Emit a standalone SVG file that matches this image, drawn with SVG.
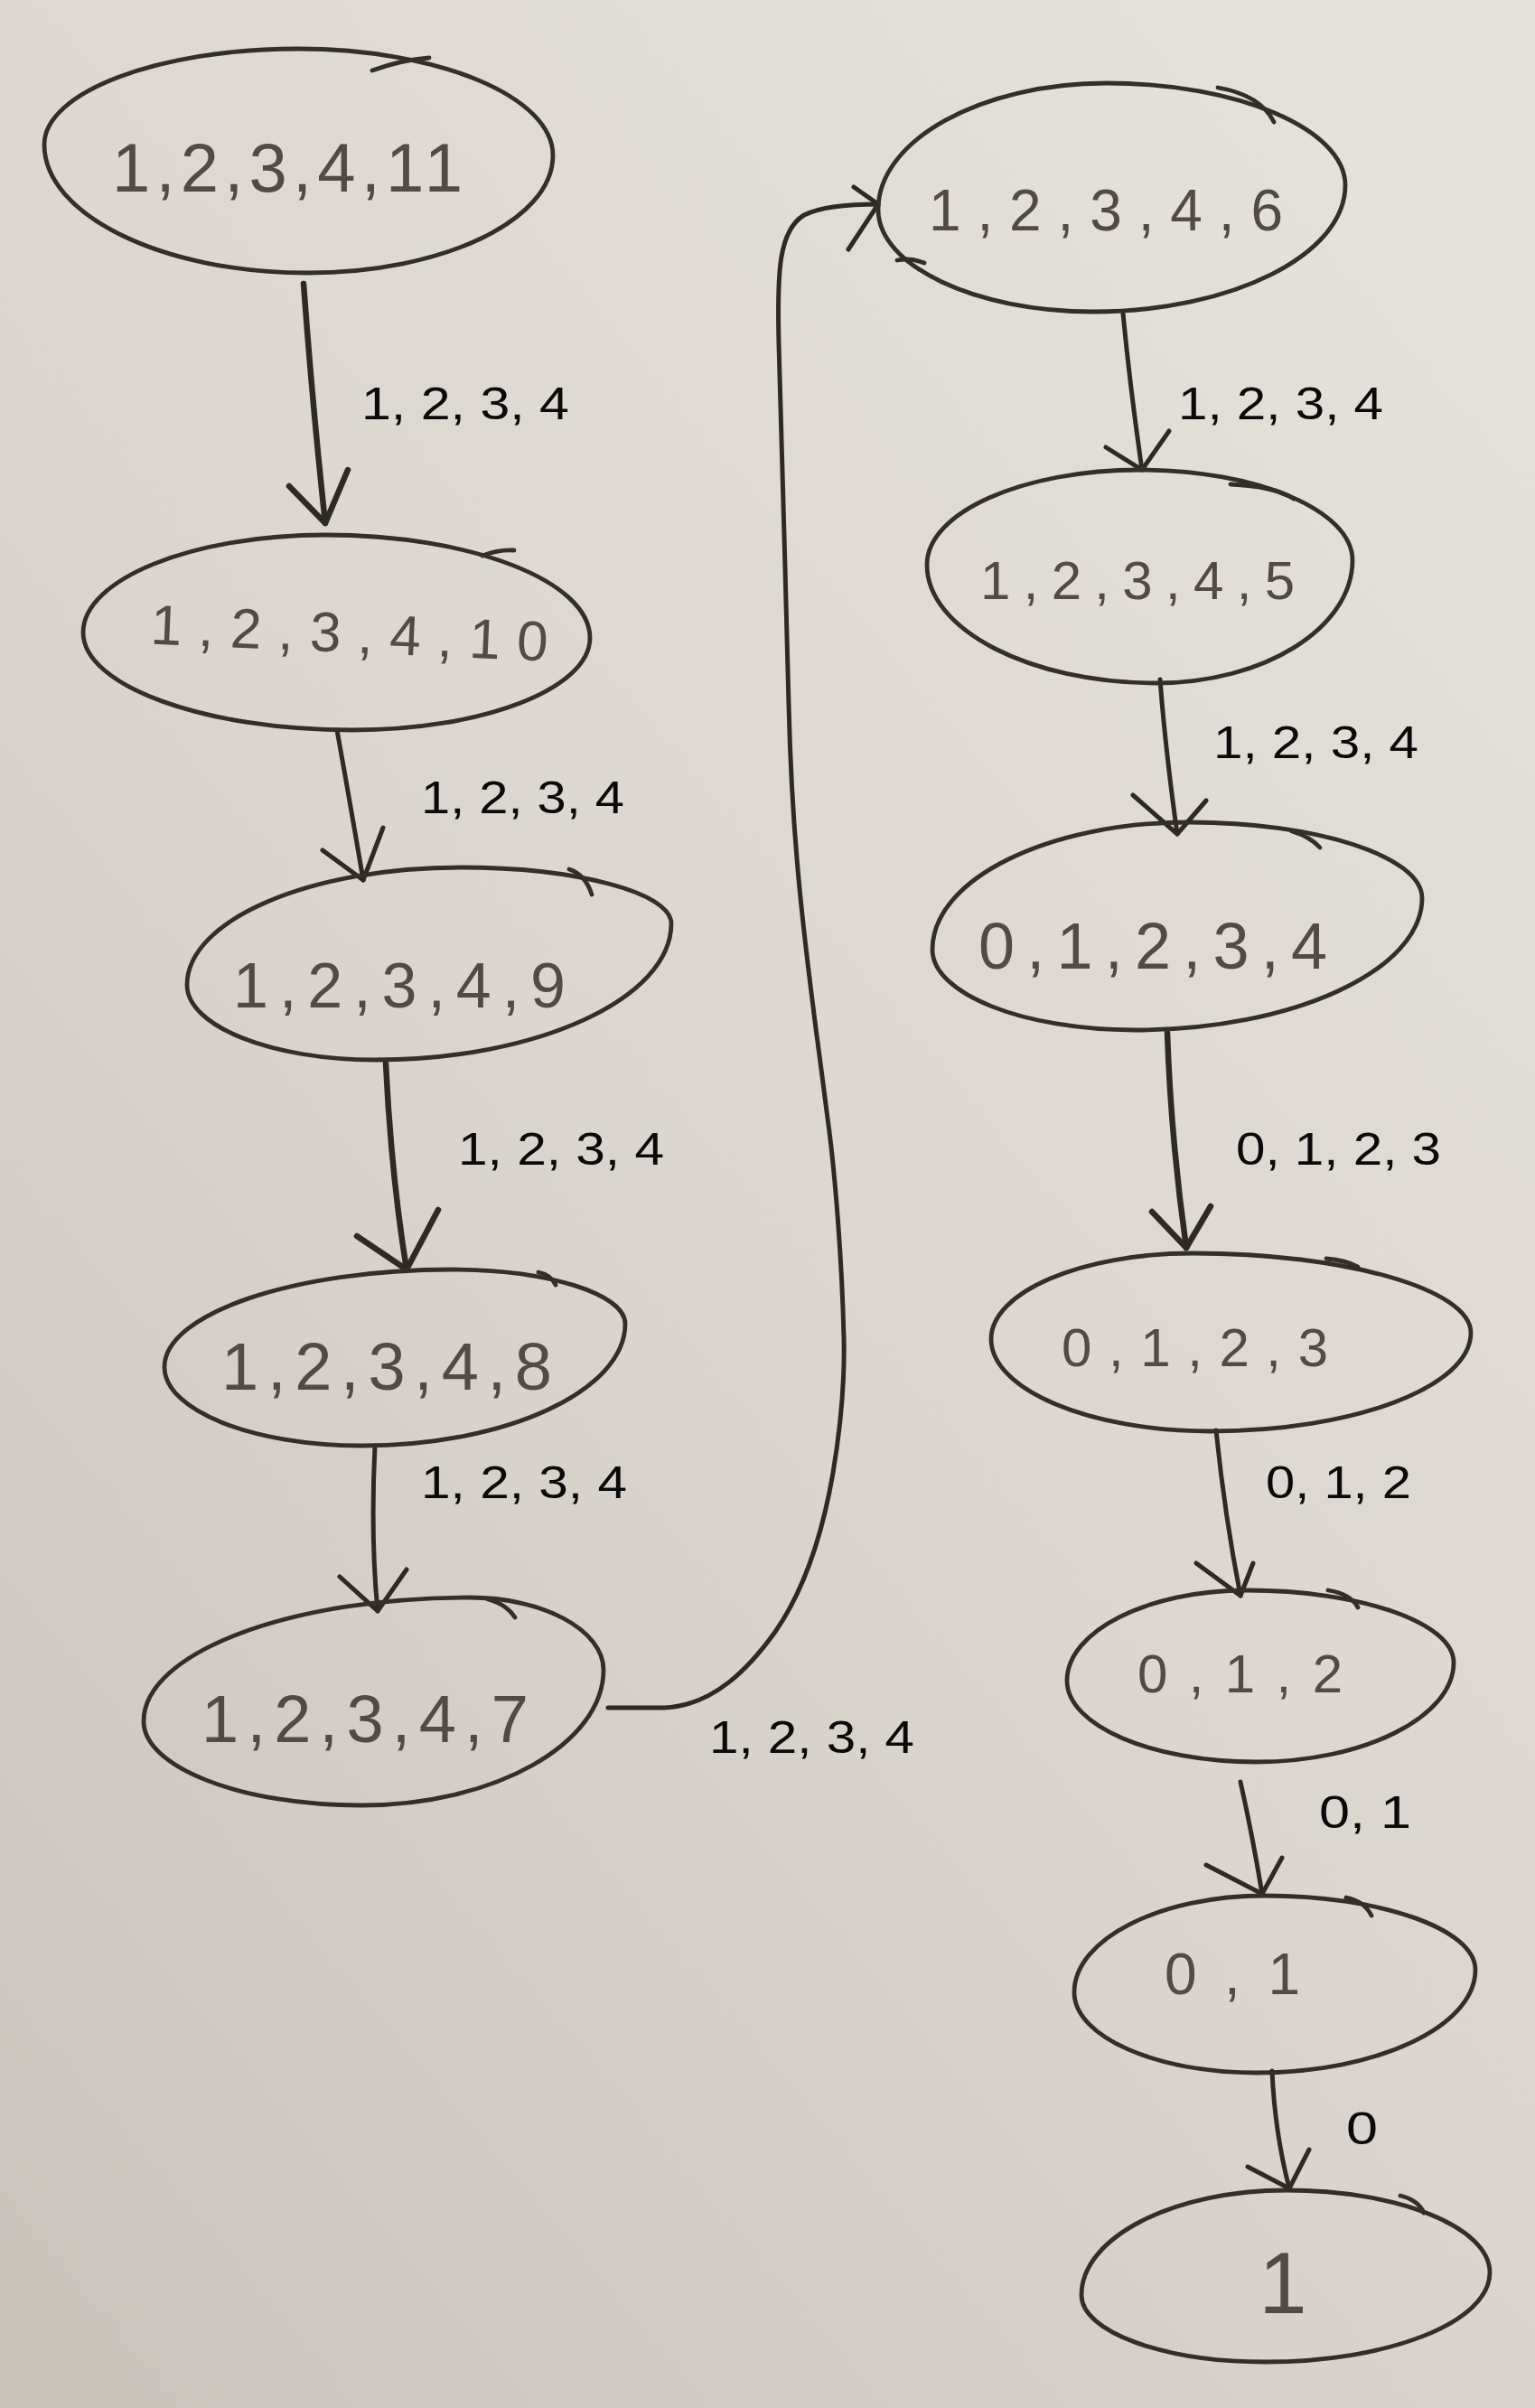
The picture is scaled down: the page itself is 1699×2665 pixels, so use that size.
<svg xmlns="http://www.w3.org/2000/svg" width="1699" height="2665" viewBox="0 0 1699 2665">
<defs>
<linearGradient id="paper" x1="0.85" y1="0" x2="0.1" y2="1">
<stop offset="0" stop-color="#e5e1db"/>
<stop offset="0.5" stop-color="#dbd6cf"/>
<stop offset="1" stop-color="#cbc5be"/>
</linearGradient>
<style>
.node path{fill:none;stroke:#342e29;stroke-width:4.8;stroke-linecap:round;stroke-linejoin:round}
.hw{font-family:"Liberation Sans","DejaVu Sans",sans-serif;fill:#524a44}
.edge path{fill:none;stroke:#2f2925;stroke-width:5;stroke-linecap:round;stroke-linejoin:round}
.edge path.bold{stroke-width:6.5}
.lbl{font-family:"Liberation Sans",Arial,sans-serif;font-size:50px;fill:#0a0a0a}
</style>
</defs>
<rect x="0" y="0" width="1699" height="2665" fill="url(#paper)"/>

<g id="connectors" class="edge">
<path class="bold" d="M336,314 Q346,450 360,579"/>
<path class="bold" d="M320,538 L360,579 L385,520"/>
<path d="M373,808 Q386,880 402,974"/>
<path d="M357,941 L402,974 L424,916"/>
<path class="bold" d="M427,1177 Q433,1300 450,1405"/>
<path class="bold" d="M395,1368 L450,1405 L485,1339"/>
<path d="M415,1600 Q410,1700 418,1783"/>
<path d="M376,1745 L418,1783 L450,1737"/>
<path d="M673,1890 L735,1890 C790,1888 830,1845 858,1806 C890,1760 910,1700 922,1630 C932,1570 935,1520 934,1480 C932,1400 925,1300 915,1230 C905,1150 890,1050 882,950 C876,880 874,820 873,780 C870,650 865,500 862,380 C860,300 862,255 890,238 C910,228 940,226 972,226"/>
<path d="M945,207 L972,226 L939,276"/>
<path d="M1243,347 Q1251,430 1264,520"/>
<path d="M1224,495 L1264,520 L1294,477"/>
<path d="M1284,752 Q1290,830 1303,923"/>
<path d="M1254,880 L1303,923 L1335,886"/>
<path class="bold" d="M1292,1143 Q1296,1260 1313,1381"/>
<path class="bold" d="M1275,1341 L1313,1381 L1340,1335"/>
<path d="M1346,1583 Q1356,1680 1373,1766"/>
<path d="M1324,1730 L1373,1766 L1387,1730"/>
<path d="M1373,1972 Q1386,2030 1397,2096"/>
<path d="M1335,2064 L1397,2096 L1419,2056"/>
<path d="M1408,2292 Q1411,2360 1427,2422"/>
<path d="M1381,2398 L1427,2422 L1449,2379"/>
<text class="lbl" x="400" y="464" textLength="230" lengthAdjust="spacingAndGlyphs">1, 2, 3, 4</text>
<text class="lbl" x="466" y="900" textLength="225" lengthAdjust="spacingAndGlyphs">1, 2, 3, 4</text>
<text class="lbl" x="507" y="1289" textLength="228" lengthAdjust="spacingAndGlyphs">1, 2, 3, 4</text>
<text class="lbl" x="466" y="1658" textLength="228" lengthAdjust="spacingAndGlyphs">1, 2, 3, 4</text>
<text class="lbl" x="785" y="1940" textLength="227" lengthAdjust="spacingAndGlyphs">1, 2, 3, 4</text>
<text class="lbl" x="1304" y="464" textLength="227" lengthAdjust="spacingAndGlyphs">1, 2, 3, 4</text>
<text class="lbl" x="1343" y="839" textLength="227" lengthAdjust="spacingAndGlyphs">1, 2, 3, 4</text>
<text class="lbl" x="1368" y="1289" textLength="227" lengthAdjust="spacingAndGlyphs">0, 1, 2, 3</text>
<text class="lbl" x="1401" y="1658" textLength="161" lengthAdjust="spacingAndGlyphs">0, 1, 2</text>
<text class="lbl" x="1460" y="2023" textLength="102" lengthAdjust="spacingAndGlyphs">0, 1</text>
<text class="lbl" x="1490" y="2373" textLength="35" lengthAdjust="spacingAndGlyphs">0</text>
</g>

<g id="n11" class="node">
<path d="M49,160 C49,102 175,54 330,54 C485,54 612,107 612,172 C612,244 490,302 340,302 C180,302 49,238 49,160 Z"/>
<path d="M412,78 Q445,66 475,64"/>
<text class="hw" x="124" y="212" font-size="76" textLength="388" lengthAdjust="spacing">1,2,3,4,11</text>
</g>
<g id="n10" class="node">
<path d="M92,700 C92,641 213,592 360,592 C521,592 653,643 653,706 C653,762 535,808 390,808 C226,808 92,759 92,700 Z"/>
<path d="M534,615 Q552,608 569,609"/>
<text class="hw" x="166" y="722" font-size="62" textLength="440" lengthAdjust="spacing" transform="rotate(2.5 386 720)">1,2,3,4,10</text>
</g>
<g id="n9" class="node">
<path d="M207,1090 C207,1018 343,960 510,960 C638,960 743,988 743,1022 C743,1105 595,1173 415,1173 C301,1173 207,1136 207,1090 Z"/>
<path d="M630,962 Q648,968 655,990"/>
<text class="hw" x="258" y="1115" font-size="70" textLength="368" lengthAdjust="spacing">1,2,3,4,9</text>
</g>
<g id="n8" class="node">
<path d="M182,1513 C182,1454 325,1405 500,1405 C606,1405 692,1432 692,1465 C692,1539 561,1600 400,1600 C280,1600 182,1561 182,1513 Z"/>
<path d="M596,1408 Q610,1411 615,1422"/>
<text class="hw" x="245" y="1538" font-size="74" textLength="366" lengthAdjust="spacing">1,2,3,4,8</text>
</g>
<g id="n7" class="node">
<path d="M159,1905 C159,1829 321,1768 520,1768 C601,1768 668,1804 668,1848 C668,1930 547,1998 400,1998 C267,1998 159,1956 159,1905 Z"/>
<path d="M540,1770 Q560,1775 570,1790"/>
<text class="hw" x="223" y="1928" font-size="74" textLength="362" lengthAdjust="spacing">1,2,3,4,7</text>
</g>
<g id="n6" class="node">
<path d="M972,232 C972,155 1086,92 1225,92 C1370,92 1489,143 1489,205 C1489,282 1363,345 1210,345 C1079,345 972,294 972,232 Z"/>
<path d="M1348,97 Q1395,105 1410,135"/>
<path d="M993,288 Q1008,285 1023,291"/>
<text class="hw" x="1028" y="255" font-size="64" textLength="392" lengthAdjust="spacing">1,2,3,4,6</text>
</g>
<g id="n5" class="node">
<path d="M1026,625 C1026,567 1132,520 1262,520 C1391,520 1497,565 1497,620 C1497,695 1399,756 1280,756 C1140,756 1026,697 1026,625 Z"/>
<path d="M1362,536 Q1410,538 1432,552"/>
<text class="hw" x="1085" y="663" font-size="60" textLength="348" lengthAdjust="spacing">1,2,3,4,5</text>
</g>
<g id="n4" class="node">
<path d="M1032,1051 C1032,973 1160,910 1316,910 C1458,910 1574,948 1574,994 C1574,1074 1431,1140 1256,1140 C1133,1140 1032,1100 1032,1051 Z"/>
<path d="M1430,920 Q1450,926 1461,938"/>
<text class="hw" x="1083" y="1072" font-size="72" textLength="386" lengthAdjust="spacing">0,1,2,3,4</text>
</g>
<g id="n3" class="node">
<path d="M1097,1482 C1097,1430 1197,1387 1320,1387 C1489,1387 1628,1427 1628,1475 C1628,1535 1498,1584 1340,1584 C1206,1584 1097,1538 1097,1482 Z"/>
<path d="M1468,1393 Q1490,1395 1503,1402"/>
<text class="hw" x="1175" y="1512" font-size="60" textLength="295" lengthAdjust="spacing">0,1,2,3</text>
</g>
<g id="n2" class="node">
<path d="M1181,1860 C1181,1805 1271,1760 1380,1760 C1506,1760 1609,1796 1609,1840 C1609,1900 1510,1950 1390,1950 C1275,1950 1181,1910 1181,1860 Z"/>
<path d="M1470,1760 Q1495,1764 1503,1779"/>
<text class="hw" x="1259" y="1873" font-size="60" textLength="227" lengthAdjust="spacing">0,1,2</text>
</g>
<g id="n1" class="node">
<path d="M1189,2205 C1189,2146 1284,2098 1400,2098 C1528,2098 1633,2135 1633,2180 C1633,2243 1524,2294 1390,2294 C1280,2294 1189,2254 1189,2205 Z"/>
<path d="M1490,2100 Q1510,2104 1518,2120"/>
<text class="hw" x="1289" y="2207" font-size="64" textLength="150" lengthAdjust="spacing">0,1</text>
</g>
<g id="n0" class="node">
<path d="M1197,2540 C1197,2476 1299,2424 1424,2424 C1548,2424 1649,2465 1649,2515 C1649,2570 1537,2614 1400,2614 C1289,2614 1197,2581 1197,2540 Z"/>
<path d="M1550,2430 Q1570,2435 1576,2449"/>
<text class="hw" x="1420" y="2560" font-size="96" text-anchor="middle">1</text>
</g>
</svg>
